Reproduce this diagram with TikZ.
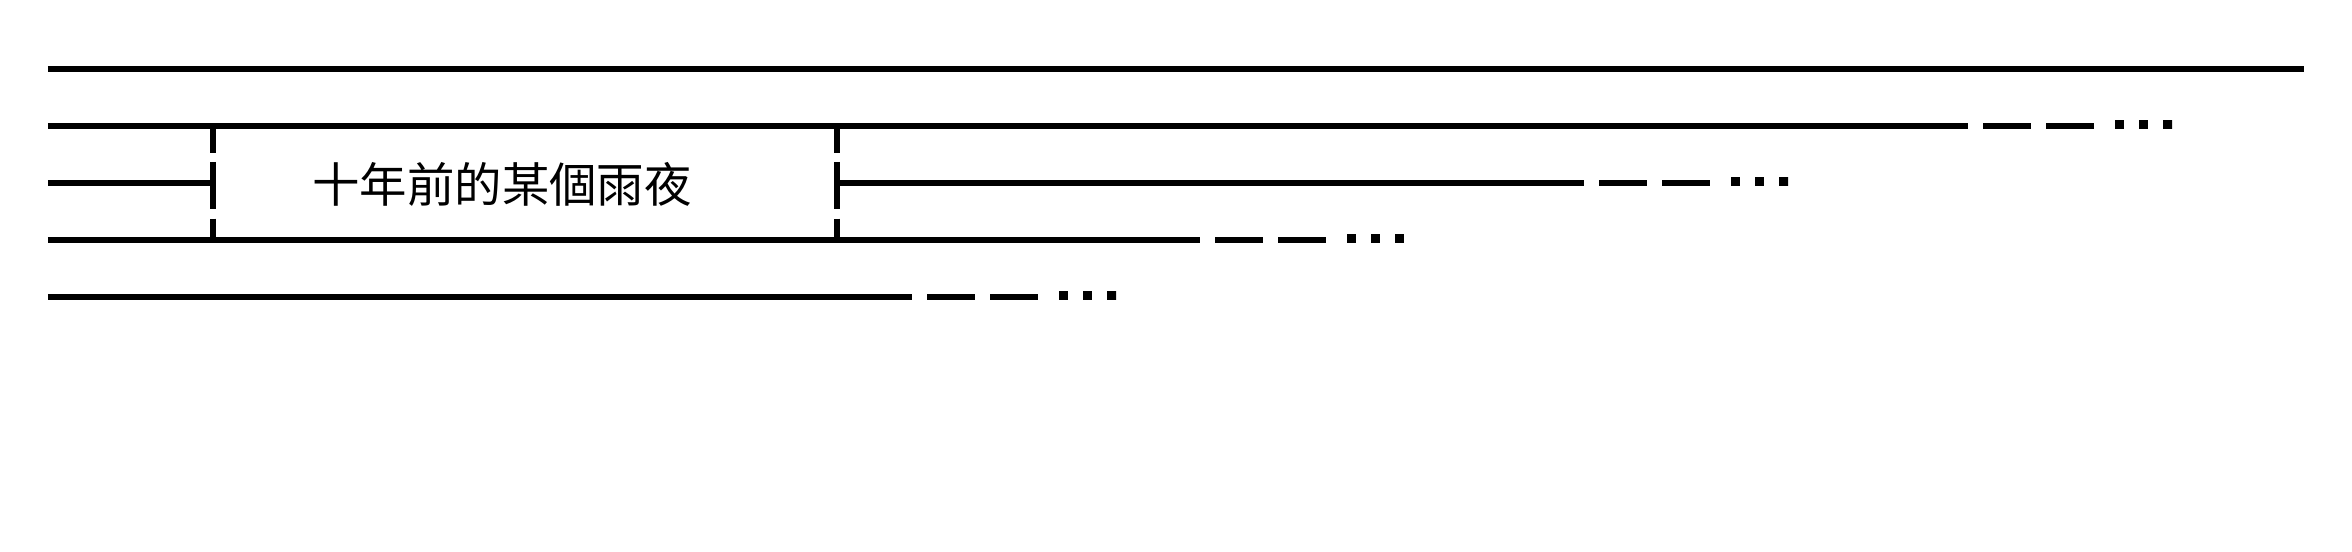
\documentclass[tikz,border=0pt]{standalone}
\usepackage{fontspec}
\newfontfamily\cjk{Noto Sans CJK TC}
\tikzset{
  track/.style={line width=0.06cm},
  tail/.style={line width=0.06cm, dash pattern=on 0pt off 1.5mm on 4.8mm off 1.5mm on 4.8mm off 7.8mm,
    postaction={draw, line width=0.09cm, dash pattern=on 0pt off 14.7mm on 0.9mm off 1.5mm on 0.9mm off 1.5mm on 0.9mm, transform canvas={yshift=0.15mm}}},
  side/.style={line width=0.057cm, dash pattern=on 2.7mm off 0.93mm on 4.73mm off 0.94mm on 2.1mm}
}
\begin{document}
\begin{tikzpicture}
\useasboundingbox (0,0) rectangle (23.52,-5.52);
% line starts and ends
\coordinate (s1) at (0.48,-0.687);
\coordinate (e1) at (23.04,-0.687);
\coordinate (s2) at (0.48,-1.257);
\coordinate (e2) at (19.68,-1.257);
\coordinate (t2) at (21.72,-1.257);
\coordinate (s3) at (0.48,-1.827);
\coordinate (e3) at (15.84,-1.827);
\coordinate (t3) at (17.88,-1.827);
\coordinate (s4) at (0.48,-2.397);
\coordinate (e4) at (12.00,-2.397);
\coordinate (t4) at (14.04,-2.397);
\coordinate (s5) at (0.48,-2.967);
\coordinate (e5) at (9.12,-2.967);
\coordinate (t5) at (11.16,-2.967);
% the box
\coordinate (nw) at (2.13,-1.257);
\coordinate (sw) at (2.13,-2.397);
\coordinate (ne) at (8.37,-1.257);
\coordinate (se) at (8.37,-2.397);
\coordinate (w) at (2.13,-1.827);
\coordinate (e) at (8.37,-1.827);
\node (night) at (5.02,-1.847) {\cjk\fontsize{13.5pt}{16pt}\selectfont 十年前的某個雨夜};
\draw[track] (s1) -- (e1);
\draw[track] (s2) -- (e2);
\draw[tail] (e2) -- (t2);
\draw[track] (s3) -- (w);
\draw[track] (e) -- (e3);
\draw[tail] (e3) -- (t3);
\draw[track] (s4) -- (e4);
\draw[tail] (e4) -- (t4);
\draw[track] (s5) -- (e5);
\draw[tail] (e5) -- (t5);
\draw[side] (nw) -- (sw);
\draw[side] (ne) -- (se);
\end{tikzpicture}
\end{document}
